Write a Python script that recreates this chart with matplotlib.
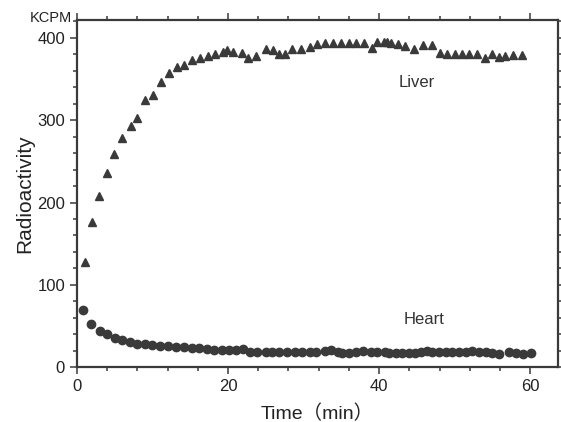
import matplotlib
matplotlib.use('Agg')
import matplotlib.pyplot as plt
from matplotlib.ticker import MultipleLocator

plt.rcParams['font.family'] = ['Liberation Sans', 'Noto Sans CJK JP', 'DejaVu Sans']

# liver (triangles), time in min and radioactivity in KCPM
liver_t = [1.06, 2.0, 2.9, 4.0, 4.9, 6.0, 7.1, 7.9, 9.0, 10.1, 11.1, 12.2, 13.2,
           14.2, 15.2, 16.3, 17.3, 18.3, 19.4, 19.9, 20.7, 21.8, 22.6, 23.7, 25.0,
           26.0, 26.8, 27.6, 28.5, 29.6, 30.8, 31.8, 32.9, 33.9, 34.9, 36.0, 37.0,
           38.0, 39.0, 39.7, 40.7, 41.1, 41.6, 42.5, 43.4, 44.6, 45.8, 47.0, 48.0,
           49.0, 50.0, 51.0, 51.9, 52.9, 54.0, 54.9, 55.9, 56.7, 57.7, 58.9]
liver_v = [128, 176, 208, 236, 259, 278, 293, 303, 325, 331, 347, 357, 365,
           367, 373, 376, 378, 380, 383, 385, 383, 382, 376, 378, 387,
           385, 381, 381, 387, 386, 389, 393, 394, 394, 394, 394, 394,
           394, 388, 395, 395, 395, 394, 393, 390, 387, 391, 391, 382,
           380, 380, 380, 380, 380, 376, 380, 377, 378, 379, 379]

# heart (circles)
heart_t = [0.8, 1.9, 3.0, 4.0, 5.0, 6.0, 7.0, 8.0, 9.0, 10.0, 11.0, 12.0, 13.1,
           14.2, 15.2, 16.2, 17.2, 18.2, 19.2, 20.1, 21.0, 22.0, 22.9, 23.8, 25.0,
           25.8, 26.8, 27.8, 28.9, 29.8, 30.8, 31.7, 32.8, 33.6, 34.5, 35.1, 36.0,
           37.0, 37.9, 38.9, 39.7, 40.8, 41.3, 42.2, 43.0, 43.9, 44.8, 45.5, 46.4,
           47.0, 47.9, 48.8, 49.7, 50.6, 51.5, 52.3, 53.2, 54.1, 55.0, 55.9, 57.2,
           58.1, 59.0, 60.1]
heart_v = [69, 53, 44, 40, 36, 33, 30, 28, 28, 27, 25.5, 25.5, 24.7,
           24, 23, 23, 22, 21, 21, 21, 20.5, 21.5, 19, 18, 18,
           18, 18, 18, 18.6, 18.6, 18.6, 18.6, 19.8, 20.7, 18.6, 16.6, 17.2,
           18.6, 19.8, 18.6, 17.8, 17.8, 16.6, 16.6, 16.6, 16.6, 16.6, 17.8, 19.8,
           18.6, 17.8, 17.8, 18.6, 17.8, 17.8, 19.5, 17.8, 17.8, 16.6, 15.8, 18.6,
           16.6, 15.8, 16.6]

fig = plt.figure(figsize=(5.61, 4.22), dpi=100)
ax = fig.add_axes([0.137, 0.130, 0.858, 0.823])

col = '#3a3a3a'
ax.plot(liver_t, liver_v, linestyle='none', marker='^', ms=6, color=col)
ax.plot(heart_t, heart_v, linestyle='none', marker='o', ms=6, color=col)

ax.set_xlim(0, 63.7)
ax.set_ylim(0, 422)
ax.xaxis.set_major_locator(MultipleLocator(20))
ax.xaxis.set_minor_locator(MultipleLocator(4))
ax.yaxis.set_major_locator(MultipleLocator(100))
ax.yaxis.set_minor_locator(MultipleLocator(20))
ax.tick_params(which='both', direction='out', top=True, right=True,
               color=col, labelcolor='#222222', labelsize=12, width=1.1)
ax.tick_params(which='major', length=5)
ax.tick_params(which='minor', length=3)
for s in ax.spines.values():
    s.set_color(col)
    s.set_linewidth(1.6)

ax.set_ylabel('Radioactivity', fontsize=15, color='#222222', labelpad=2)
ax.set_xlabel('Time（min）', fontsize=14, color='#222222', labelpad=7.5)
fig.text(0.128, 0.958, 'KCPM', ha='right', va='center', fontsize=10.5, color='#222222')

ax.text(45, 346, 'Liver', ha='center', va='center', fontsize=12, color='#333333')
ax.text(46, 58, 'Heart', ha='center', va='center', fontsize=12, color='#333333')

fig.savefig('out.png', dpi=100)
